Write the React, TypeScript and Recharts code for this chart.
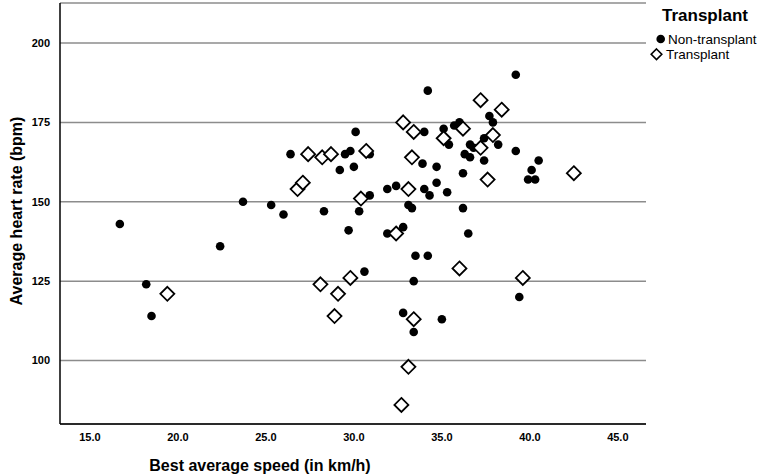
import React from 'react';
import { ScatterChart, Scatter, XAxis, YAxis, CartesianGrid, Customized, Label } from 'recharts';

const nonTransplantSpeed = [16.7, 18.2, 18.5, 22.4, 23.7, 25.3, 26.0, 26.4, 28.3, 29.2, 29.5, 29.8, 30.1, 30.0, 29.7, 30.3, 30.9, 30.9, 30.6, 31.9, 32.4, 31.9, 32.8, 33.1, 33.3, 33.5, 34.2, 33.4, 32.8, 33.4, 35.0, 36.2, 36.5, 39.4, 39.2, 34.2, 37.7, 37.9, 34.0, 35.1, 35.4, 35.7, 36.0, 36.6, 36.8, 37.4, 38.2, 36.3, 36.6, 37.4, 39.2, 40.5, 40.1, 39.9, 40.3, 33.9, 34.7, 36.2, 34.7, 34.0, 34.3, 35.3];
const nonTransplantHR = [143, 124, 114, 136, 150, 149, 146, 165, 147, 160, 165, 166, 172, 161, 141, 147, 152, 165, 128, 154, 155, 140, 142, 149, 148, 133, 133, 125, 115, 109, 113, 148, 140, 120, 190, 185, 177, 175, 172, 173, 168, 174, 175, 168, 167, 170, 168, 165, 164, 163, 166, 163, 160, 157, 157, 162, 161, 159, 156, 154, 152, 153];

const transplantSpeed = [19.4, 26.8, 27.1, 27.4, 28.2, 28.7, 28.1, 29.1, 28.9, 29.8, 30.4, 30.7, 32.8, 33.4, 33.1, 32.4, 33.4, 36.0, 39.6, 33.1, 32.7, 37.2, 38.4, 35.1, 36.2, 37.2, 37.9, 42.5, 33.3, 37.6];
const transplantHR = [121, 154, 156, 165, 164, 165, 124, 121, 114, 126, 151, 166, 175, 172, 154, 140, 113, 129, 126, 98, 86, 182, 179, 170, 173, 167, 171, 159, 164, 157];

const xTicks = [15, 20, 25, 30, 35, 40, 45];
const yTicks = [100, 125, 150, 175, 200];
const xTitle = 'Best average speed (in km/h)';
const yTitle = 'Average heart rate (bpm)';
const legendTitle = 'Transplant';
const seriesNames = ['Non-transplant', 'Transplant'];

const nonData = nonTransplantSpeed.map((x, i) => ({ x, y: nonTransplantHR[i] }));
const tData = transplantSpeed.map((x, i) => ({ x, y: transplantHR[i] }));

const FONT = '"Liberation Sans", Arial, Helvetica, sans-serif';

const DotShape = (p: any) => <circle cx={p.cx} cy={p.cy} r={4.3} fill="#000" />;
const DiamondShape = (p: any) => {
  const s = 7;
  const { cx, cy } = p;
  return (
    <path
      d={`M${cx},${cy - s}L${cx + s},${cy}L${cx},${cy + s}L${cx - s},${cy}Z`}
      fill="#fff"
      stroke="#000"
      strokeWidth={1.8}
    />
  );
};

const LegendBlock = () => (
  <g fontFamily={FONT} fill="#000">
    <text x={705} y={15} textAnchor="middle" dominantBaseline="central" fontSize={17} fontWeight="bold">
      {legendTitle}
    </text>
    <circle cx={660.7} cy={39} r={4.3} fill="#000" />
    <text x={668} y={39} dominantBaseline="central" fontSize={13.5}>
      {seriesNames[0]}
    </text>
    <path d="M656.5,49 L661.8,54.3 L656.5,59.6 L651.2,54.3 Z" fill="#fff" stroke="#000" strokeWidth={1.6} />
    <text x={666} y={54.5} dominantBaseline="central" fontSize={13.5}>
      {seriesNames[1]}
    </text>
  </g>
);

export default function App() {
  const tickStyle = { fill: '#000', fontSize: 11, fontWeight: 'bold', fontFamily: FONT } as any;
  return (
    <div style={{ position: 'absolute', left: 0, top: 0, width: 760, height: 476, background: '#fff' }}>
      <ScatterChart width={760} height={476} margin={{ top: 3, right: 114, bottom: 0, left: 0 }}>
        <CartesianGrid horizontal vertical={false} stroke="#8c8c8c" strokeWidth={1.5} />
        <XAxis
          type="number"
          dataKey="x"
          domain={[13.3, 46.6]}
          allowDataOverflow
          ticks={xTicks}
          tickFormatter={(v: number) => v.toFixed(1)}
          tickLine={false}
          tickSize={0}
          tickMargin={9}
          axisLine={{ stroke: '#000', strokeWidth: 1.5 }}
          tick={tickStyle}
          height={52}
        >
          <Label
            content={() => (
              <text x={260} y={465} textAnchor="middle" dominantBaseline="central" fontSize={16} fontWeight="bold" fontFamily={FONT} fill="#000">
                {xTitle}
              </text>
            )}
          />
        </XAxis>
        <YAxis
          type="number"
          dataKey="y"
          domain={[80, 212.6]}
          allowDataOverflow
          ticks={yTicks}
          tickLine={false}
          tickSize={0}
          tickMargin={10}
          axisLine={{ stroke: '#000', strokeWidth: 1.5 }}
          tick={tickStyle}
          width={60}
        >
          <Label
            content={() => (
              <text x={16} y={211} transform="rotate(-90,16,211)" textAnchor="middle" dominantBaseline="central" fontSize={16} fontWeight="bold" fontFamily={FONT} fill="#000">
                {yTitle}
              </text>
            )}
          />
        </YAxis>
        <Scatter name={seriesNames[0]} data={nonData} shape={DotShape} isAnimationActive={false} />
        <Scatter name={seriesNames[1]} data={tData} shape={DiamondShape} isAnimationActive={false} />
        <Customized component={LegendBlock} />
      </ScatterChart>
    </div>
  );
}
